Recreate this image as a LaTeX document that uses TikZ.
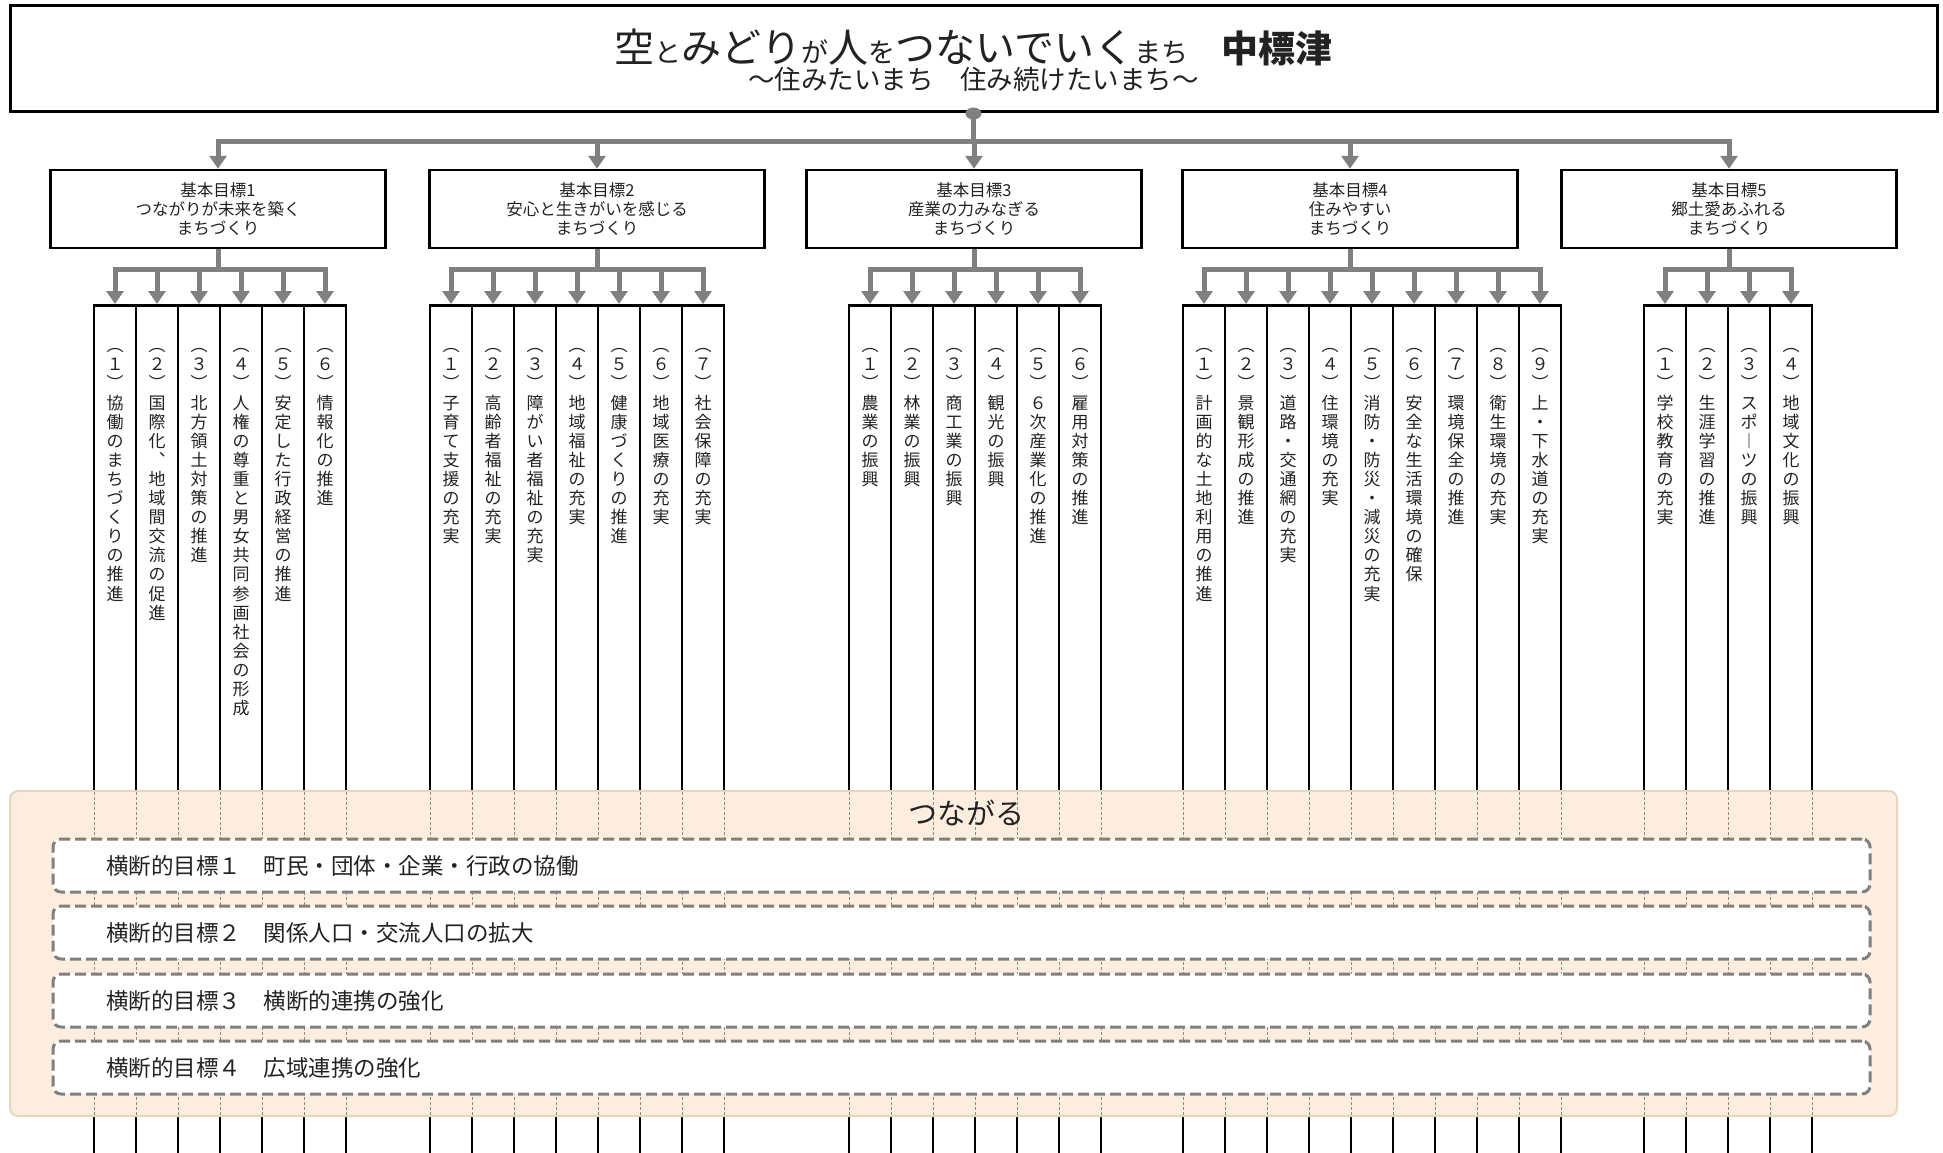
\documentclass[tikz,border=0pt]{standalone}
\usepackage{fontspec}
\setmainfont{Noto Sans CJK JP}
\usetikzlibrary{arrows.meta}
\definecolor{arrgray}{RGB}{128,128,128}
\definecolor{bandfill}{RGB}{253,237,222}
\definecolor{bandedge}{RGB}{225,216,192}
\definecolor{tickgray}{RGB}{150,138,126}
\definecolor{ink}{RGB}{34,34,34}
% vertical writing: one character per line
\newcommand\tate[1]{\vbox{\baselineskip=19.1pt\lineskiplimit=-100pt\tateloop#1\relax}}
\def\tateloop#1{\ifx#1\relax\else\hbox to 20pt{\hss\vrule height 16pt depth 3.1pt width 0pt#1\hss}\expandafter\tateloop\fi}
\newcommand\sm[1]{{\fontsize{27pt}{30pt}\selectfont #1}}
\begin{document}
\begin{tikzpicture}[x=1pt,y=-1pt,every node/.style={text=ink},
  garrow/.style={draw=arrgray,line width=5pt,-{Triangle[width=17pt,length=13pt]}},
  goal/.style={draw,line width=2.5pt,minimum width=335pt,minimum height=78pt,align=center,font=\fontsize{16.5pt}{19pt}\selectfont},
  col/.style={draw,line width=2.5pt,minimum width=42pt,minimum height=860pt,anchor=north,inner sep=0pt},
  tatetext/.style={anchor=north,inner sep=0pt,yshift=-31.5pt,font=\fontsize{17pt}{19.1pt}\selectfont},
  xbox/.style={draw=arrgray,fill=white,line width=3pt,dash pattern=on 11pt off 5pt,rounded corners=8pt,minimum height=53pt,inner xsep=53pt,text width=1711pt,align=left,font=\fontsize{22.5pt}{26pt}\selectfont}]
\useasboundingbox (0,0) rectangle (1943,1153);
\node[draw,line width=3pt,minimum width=1927pt,minimum height=106pt] (vision) at (973.5,59) {};
\node[font=\fontsize{40pt}{44pt}\selectfont] (title) at ([yshift=12pt]vision.center) {空\sm{と}みどり\sm{が}人\sm{を}つないでいく\sm{まち}\hspace{33pt}{\fontsize{37pt}{40pt}\selectfont\bfseries 中標津}};
\node[font=\fontsize{26.5pt}{30pt}\selectfont] (motto) at ([yshift=-20pt]vision.center) {～住みたいまち　住み続けたいまち～};

\foreach \n/\x/\txt in {1/218/つながりが未来を築く,2/597/安心と生きがいを感じる,3/974/産業の力みなぎる,4/1350/住みやすい,5/1729/郷土愛あふれる}
  \node[goal] (g\n) at (\x,209) {基本目標\n\\\txt\\まちづくり};
\foreach \n in {1,...,5}
  \draw[garrow] (vision.south) -- ++(0,28) -| (g\n.north);
\fill[arrgray] (vision.south) ellipse [x radius=8pt,y radius=6pt];

\foreach \g/\l/\items in {
  1/94/{︵１︶協働のまちづくりの推進,︵２︶国際化︑地域間交流の促進,︵３︶北方領土対策の推進,︵４︶人権の尊重と男女共同参画社会の形成,︵５︶安定した行政経営の推進,︵６︶情報化の推進},
  2/430/{︵１︶子育て支援の充実,︵２︶高齢者福祉の充実,︵３︶障がい者福祉の充実,︵４︶地域福祉の充実,︵５︶健康づくりの推進,︵６︶地域医療の充実,︵７︶社会保障の充実},
  3/849/{︵１︶農業の振興,︵２︶林業の振興,︵３︶商工業の振興,︵４︶観光の振興,︵５︶６次産業化の推進,︵６︶雇用対策の推進},
  4/1183/{︵１︶計画的な土地利用の推進,︵２︶景観形成の推進,︵３︶道路・交通網の充実,︵４︶住環境の充実,︵５︶消防・防災・減災の充実,︵６︶安全な生活環境の確保,︵７︶環境保全の推進,︵８︶衛生環境の充実,︵９︶上・下水道の充実},
  5/1644/{︵１︶学校教育の充実,︵２︶生涯学習の推進,︵３︶スポ︱ツの振興,︵４︶地域文化の振興}}{
  \foreach \txt [count=\i] in \items {
    \node[col] (c\g\i) at (\l+42*\i-21,304) {};
    \node[tatetext] at (c\g\i.north) {\expandafter\tate\expandafter{\txt}};
    \draw[garrow] (g\g.south) -- ++(0,20) -| (c\g\i.north);
  }
}

% band of the cross-cutting goals
\draw[fill=bandfill,draw=bandedge,line width=2pt,rounded corners=8pt] (10,791) rectangle (1897,1116);
\foreach \l/\m in {94/6,430/7,849/6,1183/9,1644/4}
  \foreach \k in {0,...,\m}
    \draw[tickgray,line width=1pt,densely dashed] (\l+42*\k,792) -- (\l+42*\k,1115);
\node[font=\fontsize{29pt}{33pt}\selectfont] (link) at (966,813) {つながる};
\foreach \n/\y/\txt in {1/865.5/横断的目標１　町民・団体・企業・行政の協働,2/932.5/横断的目標２　関係人口・交流人口の拡大,3/1000.5/横断的目標３　横断的連携の強化,4/1067.5/横断的目標４　広域連携の強化}
  \node[xbox] (x\n) at (961.5,\y) {\txt};
\end{tikzpicture}
\end{document}
